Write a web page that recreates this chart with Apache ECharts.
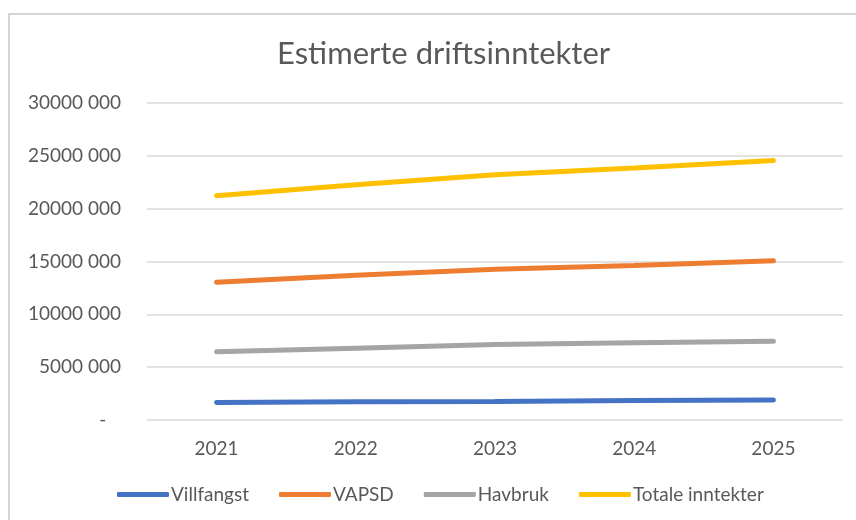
<!DOCTYPE html>
<html>
<head>
<meta charset="utf-8">
<script src="https://cdn.jsdelivr.net/npm/echarts@6/dist/echarts.min.js"></script>
<style>
  html, body { margin: 0; padding: 0; background: #fff; }
  #wrap { position: relative; width: 856px; height: 520px; }
  #chart { width: 856px; height: 520px; }
  #frame { position: absolute; left: 8px; top: 13px; right: 0; bottom: 0;
           border-top: 2px solid #d4d4d4; border-left: 2px solid #d4d4d4; pointer-events: none; }
</style>
</head>
<body>
<div id="wrap">
  <div id="chart"></div>
  <div id="frame"></div>
</div>
<script>
    var years = ['2021', '2022', '2023', '2024', '2025'];
    var villfangst = [1650000, 1720000, 1760000, 1850000, 1900000];
    var vapsd = [13030000, 13700000, 14270000, 14620000, 15060000];
    var havbruk = [6450000, 6800000, 7140000, 7300000, 7450000];
    var totale = [21230000, 22260000, 23200000, 23840000, 24560000];
    var seriesNames = ['Villfangst', 'VAPSD', 'Havbruk', 'Totale inntekter'];
    var colors = ['#4472C4', '#ED7D31', '#A5A5A5', '#FFC000'];

    var font = 'Lato, "Open Sans", sans-serif';

    function fmt(v) {
        if (v === 0) return '-   ';
        return Math.floor(v / 1000) + ' ' + String(v % 1000 + 1000).slice(1);
    }

    function lineSeries(name, data, i) {
        return {
            name: name,
            type: 'line',
            data: data,
            symbol: 'none',
            smooth: false,
            lineStyle: { width: 5, color: colors[i], cap: 'round' },
            itemStyle: { color: colors[i] }
        };
    }

    var chart = echarts.init(document.getElementById('chart'));
    chart.setOption({
        animation: false,
        textStyle: { fontFamily: font },
        title: {
            text: 'Estimerte driftsinntekter',
            left: 272,
            top: 33,
            textStyle: { fontFamily: font, fontSize: 31, fontWeight: 'normal', color: '#595959' }
        },
        legend: {
            data: seriesNames,
            bottom: 11,
            left: 112,
            icon: 'roundRect',
            itemWidth: 52,
            itemHeight: 5,
            itemGap: 30,
            textStyle: { fontFamily: font, fontSize: 19, color: '#595959', padding: [0, 0, 0, -3] }
        },
        grid: { left: 147, right: 13, top: 103, bottom: 100, containLabel: false },
        xAxis: {
            type: 'category',
            data: years,
            boundaryGap: true,
            axisLine: { show: false },
            axisTick: { show: false },
            axisLabel: { fontSize: 19, color: '#595959', margin: 19 }
        },
        yAxis: {
            type: 'value',
            min: 0,
            max: 30000000,
            interval: 5000000,
            axisLine: { show: false },
            axisTick: { show: false },
            axisLabel: { fontSize: 19, color: '#595959', margin: 26, formatter: fmt },
            splitLine: { lineStyle: { color: '#d9d9d9', width: 1.5 } }
        },
        series: [
            lineSeries(seriesNames[0], villfangst, 0),
            lineSeries(seriesNames[1], vapsd, 1),
            lineSeries(seriesNames[2], havbruk, 2),
            lineSeries(seriesNames[3], totale, 3)
        ]
    });
</script>
</body>
</html>
